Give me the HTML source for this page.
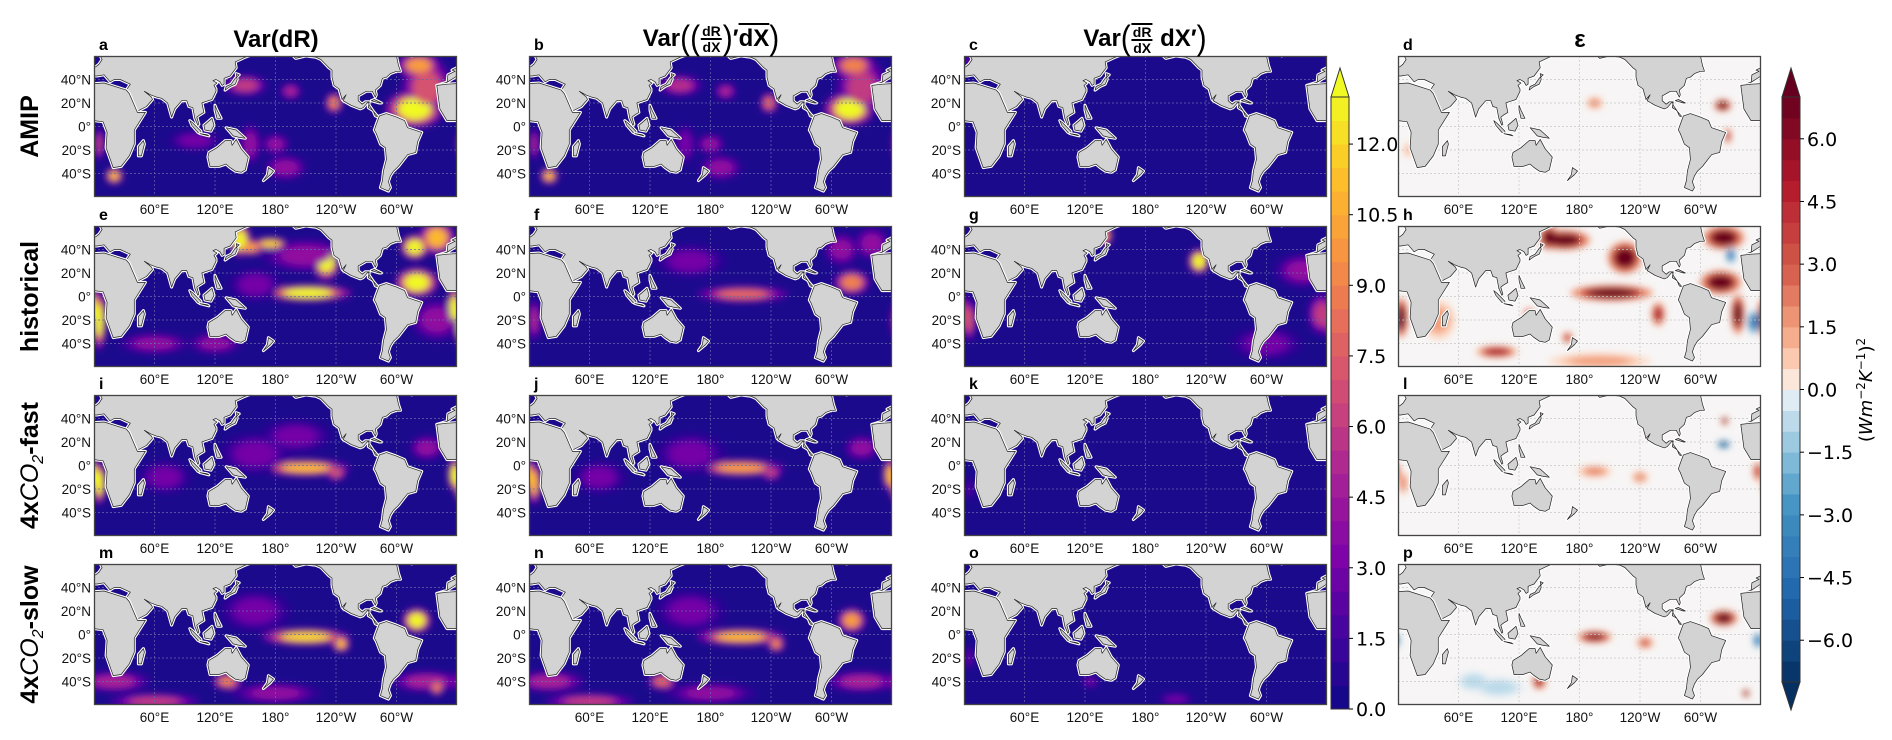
<!DOCTYPE html>
<html><head><meta charset="utf-8">
<style>
body{margin:0;background:#fff;}
#wrap{position:relative;width:1892px;height:740px;overflow:hidden;font-family:"Liberation Sans","DejaVu Sans",sans-serif;}
.title{position:absolute;font-weight:bold;font-size:24px;color:#000;white-space:nowrap;transform:translateX(-50%);display:flex;align-items:center;}
.frac{display:inline-flex;flex-direction:column;align-items:center;font-size:14px;line-height:14px;margin:0 1px;}
.frac .num{border-bottom:2px solid #000;padding:0 1px;}
.ov{text-decoration:overline;}
.par{font-weight:normal;font-size:30px;transform:scaleY(1.15);display:inline-block;}
</style></head>
<body>
<div id="wrap">
<svg id="svg" width="1892" height="740" xmlns="http://www.w3.org/2000/svg"></svg>
<div class="title" style="left:276px;top:26px;">Var(dR)</div>
<div class="title" style="left:711px;top:22px;">Var<span class="par">(</span><span class="par">(</span><span class="frac"><span class="num">dR</span><span>dX</span></span><span class="par">)</span>′<span class="ov">dX</span><span class="par">)</span></div>
<div class="title" style="left:1145px;top:22px;">Var<span class="par">(</span><span class="frac" style="border-top:2px solid #000"><span class="num">dR</span><span>dX</span></span>&nbsp;dX′<span class="par">)</span></div>
<div class="title" style="left:1580px;top:26px;">ε</div>
</div>
<script>
const NS="http://www.w3.org/2000/svg";
const svg=document.getElementById('svg');
const cols=[94,529,964,1398], rows=[56,226,395,564], W=363, H=141;
const panelLetters=[["a","b","c","d"],["e","f","g","h"],["i","j","k","l"],["m","n","o","p"]];
const rowLabels=["AMIP","historical","4xCO2-fast","4xCO2-slow"];
const xTickLons=[60,120,180,240,300];
const xTickLabels=["60°E","120°E","180°","120°W","60°W"];
const yTickLats=[40,20,0,-20,-40];
const yTickLabels=["40°N","20°N","0°","20°S","40°S"];
const cb1Ticks=[0,1.5,3,4.5,6,7.5,9,10.5,12];
const cb2Ticks=[-6,-4.5,-3,-1.5,0,1.5,3,4.5,6];
// hotspot data per panel: [lon, lat, lonRadius, latRadius, value]
const hotA=[[150,35,12,5,6],[195,30,6,4,5],[238,20,5,5,9],[318,15,16,9,13],[330,33,14,14,7],[322,52,12,6,10],[20,-42,5,4,11],[5,-15,3,8,6],[190,-35,12,6,4],[180,-15,8,5,4],[155,-15,6,10,4],[100,-12,15,5,3]];
const hotB=[[150,35,12,5,5.5],[195,30,6,4,5],[238,20,5,5,8],[318,15,14,8,13],[330,33,14,14,6],[322,52,12,6,9],[20,-42,5,4,11],[5,-15,3,8,5],[190,-35,12,6,4],[180,-15,8,5,4],[155,-15,6,10,3]];
const hotC=[[5,55,3,3,3]];
const hotE=[[145,48,6,8,13],[175,45,10,3,12],[155,42,8,4,10],[230,30,8,9,13],[212,3,24,4,13],[320,12,12,7,13],[318,42,8,6,13],[340,50,10,8,11],[357,-10,4,10,13],[5,-20,4,14,13],[120,-40,15,5,4],[60,-40,20,5,4],[160,10,15,8,3],[340,-20,15,10,4],[210,35,25,8,4]];
const hotF=[[212,2,25,4,8],[320,12,10,6,9],[310,40,10,8,4],[5,-20,4,10,5],[160,30,20,8,3],[340,45,10,8,4]];
const hotG=[[140,52,4,5,10],[233,30,6,6,13],[335,22,15,8,4],[355,-15,8,10,6],[5,-20,4,10,7],[300,-40,20,8,3]];
const hotI=[[210,-2,24,4,11],[240,-6,6,4,7],[5,-15,4,10,13],[358,-8,4,8,13],[330,15,10,6,4],[70,-10,15,8,3],[160,10,20,10,3],[200,25,20,8,3]];
const hotJ=[[210,-2,24,4,10],[240,-6,6,4,6],[5,-15,4,10,11],[358,-8,4,8,11],[330,15,10,6,4],[70,-10,15,8,3],[160,10,20,10,3]];
const hotK=[[5,-20,3,6,2]];
const hotM=[[210,-2,24,4,12],[245,-8,5,4,11],[320,12,8,6,13],[132,-40,8,4,9],[60,-57,25,4,6],[20,-40,20,5,5],[330,-40,20,5,5],[340,-45,4,4,9],[180,-50,25,5,4],[160,20,20,10,3]];
const hotN=[[210,-2,24,4,11],[245,-8,5,4,9],[320,12,8,6,10],[132,-40,8,4,8],[60,-57,25,4,6],[20,-40,20,5,5],[330,-40,20,5,5],[180,-50,25,5,4],[160,20,20,10,3]];
const hotO=[[5,-20,3,6,2.5],[125,-40,5,3,3],[210,-55,10,3,3]];
const hotD=[[322,18,5,3,7],[327,-8,2,4,5],[195,20,5,3,2],[10,-20,3,4,1]];
const hotH=[[165,48,15,5,7],[150,50,6,6,7],[225,33,10,8,7],[212,3,24,4,7],[320,12,12,6,7],[323,50,12,6,7],[337,-15,4,10,7],[3,-18,4,10,7],[98,-47,12,3,5],[130,-15,3,3,4],[168,-35,3,3,4],[40,-20,10,10,1.5],[330,35,3,4,-4],[353,-22,4,6,-4],[258,-15,4,6,5],[200,-55,30,4,1.5]];
const hotL=[[324,38,2,2,7],[323,18,4,2,-6],[357,-5,3,5,4],[195,-5,10,3,2],[240,-10,5,3,2],[5,-15,3,6,2]];
const hotP=[[323,14,8,4,7],[195,-2,10,3,6],[245,-7,5,3,3],[357,-5,3,4,-4],[345,-50,2,2,7],[140,-40,4,4,5],[100,-45,15,5,-0.8],[75,-40,10,5,-0.8]];
const hotspots=[[hotA,hotB,hotC,hotD],[hotE,hotF,hotG,hotH],[hotI,hotJ,hotK,hotL],[hotM,hotN,hotO,hotP]];

const land=[
[[-20,35],[-10,36],[-9,44],[-2,47],[-5,48],[2,51],[5,53],[8,57],[5,62],[200,75],[185,62],[180,65],[160,62],[150,59],[140,55],[141,50],[135,43],[129,41],[129,36],[127,35],[125,38],[121,40],[118,39],[122,37],[119,35],[121,32],[121,30],[117,23],[110,21],[107,20],[109,12],[105,10],[102,8],[104,2],[103,1],[100,7],[98,16],[94,17],[92,22],[87,22],[80,15],[77,8],[73,20],[67,24],[62,25],[56,27],[50,30],[57,25],[58,23],[52,17],[43,13],[35,28],[32,31],[36,36],[26,40],[20,40],[16,38],[10,44],[3,43],[0,43],[-9,38]],
[[-20,35],[-10,36],[10,37],[32,31],[35,28],[43,12],[51,12],[40,-3],[40,-15],[35,-25],[27,-34],[19,-35],[12,-18],[13,-5],[9,4],[0,5],[-10,5],[-17,15]],
[[130,31],[135,34],[140,36],[142,40],[141,45],[144,44],[140,41],[136,36],[131,34]],
[[95,5],[98,3],[106,-4],[106,-6],[103,-5],[97,1]],
[[109,1],[117,7],[119,1],[116,-4],[110,-3]],
[[105,-6],[114,-8],[112,-7]],
[[131,-1],[141,-3],[150,-10],[143,-9],[138,-8]],
[[120,18],[122,14],[126,7],[122,7],[120,14]],
[[114,-22],[122,-18],[130,-12],[136,-12],[137,-16],[141,-11],[146,-19],[153,-26],[150,-37],[146,-39],[140,-38],[135,-35],[131,-32],[124,-34],[115,-34],[113,-26]],
[[173,-35],[178,-38],[175,-41],[168,-46],[172,-41]],
[[44,-25],[47,-25],[50,-15],[49,-12],[44,-17]],
[[185,70],[195,62],[200,58],[210,60],[220,59],[225,57],[233,50],[236,48],[236,42],[238,35],[243,32],[246,23],[250,27],[247,22],[255,18],[264,15],[267,16],[272,21],[273,18],[277,13],[279,9],[282,8],[280,10],[276,14],[272,16],[273,21],[269,21],[266,19],[262,22],[262,26],[270,30],[276,30],[279,25],[280,27],[279,31],[284,35],[286,41],[290,42],[294,45],[300,47],[304,47],[302,52],[300,60],[300,70]],
[[275,22],[283,20],[285,20],[278,23]],
[[283,9],[280,2],[278,-3],[280,-6],[284,-15],[289,-18],[290,-28],[287,-38],[286,-46],[284,-52],[292,-55],[294,-52],[292,-47],[294,-42],[297,-38],[302,-34],[311,-24],[319,-22],[321,-13],[325,-5],[311,-1],[308,5],[300,8],[290,11]],
[[315,60],[320,62],[335,70],[300,70]]
];

function el(tag,attrs,parent){const e=document.createElementNS(NS,tag);for(const k in attrs)e.setAttribute(k,attrs[k]);(parent||svg).appendChild(e);return e;}
function lerpHex(a,b,t){const pa=[1,3,5].map(i=>parseInt(a.substr(i,2),16)),pb=[1,3,5].map(i=>parseInt(b.substr(i,2),16));return 'rgb('+pa.map((v,i)=>Math.round(v+(pb[i]-v)*t)).join(',')+')';}
function ramp(stops,t){t=Math.max(0,Math.min(1,t));for(let i=0;i<stops.length-1;i++){if(t<=stops[i+1][0]){return lerpHex(stops[i][1],stops[i+1][1],(t-stops[i][0])/(stops[i+1][0]-stops[i][0]));}}return stops[stops.length-1][1];}
const plasma=[[0,'#0d0887'],[0.13,'#47039f'],[0.25,'#7e03a8'],[0.38,'#a82296'],[0.5,'#cc4778'],[0.63,'#e66c5c'],[0.75,'#f89540'],[0.88,'#fdc328'],[1,'#f0f921']];
const rdbu=[[0,'#053061'],[0.15,'#2166ac'],[0.3,'#4393c3'],[0.4,'#92c5de'],[0.47,'#d1e5f0'],[0.5,'#f7f7f7'],[0.53,'#fddbc7'],[0.6,'#f4a582'],[0.7,'#d6604d'],[0.85,'#b2182b'],[1,'#67001f']];
function cmap1(v){return ramp(plasma,v/13);}
function cmap2(v){return ramp(rdbu,(v+7)/14);}

const defs=el('defs',{});
const f=el('filter',{id:'blur',x:'-20%',y:'-20%',width:'140%',height:'140%'},defs);
el('feGaussianBlur',{stdDeviation:'3.5'},f);

rowLabels.forEach((lab,r)=>{
  const cy=rows[r]+H/2;
  const t=el('text',{x:0,y:0,transform:`translate(38,${cy}) rotate(-90)`,'text-anchor':'middle','font-size':'25','font-weight':'bold','font-family':'Liberation Sans, sans-serif'});
  
  
  if(lab.indexOf('CO2')>=0){
    const parts=lab.split('CO2');
    const a=el('tspan',{},t);a.textContent=parts[0];
    const b=el('tspan',{'font-style':'italic','font-weight':'normal'},t);b.textContent='CO';
    const c=el('tspan',{'font-size':'16','dy':'5','font-weight':'normal','font-style':'italic'},t);c.textContent='2';
    const d=el('tspan',{'dy':'-5'},t);d.textContent=parts[1];
  } else t.textContent=lab;
});

for(let r=0;r<4;r++)for(let c=0;c<4;c++){
  const px=cols[c],py=rows[r];
  const div=c===3;
  const g=el('g',{});
  
  
  const cid='clip'+r+c;
  const cp=el('clipPath',{id:cid},defs);el('rect',{x:px,y:py,width:W,height:H},cp);
  const inner=el('g',{'clip-path':`url(#${cid})`},g);
  el('rect',{x:px,y:py,width:W,height:H,fill:div?'#f7f5f5':'#1c0a8d'},inner);
  const bg=el('g',{filter:'url(#blur)'},inner);
  const cm=div?cmap2:cmap1;
  const layers=div?[[1.7,0.25],[1.3,0.6],[1,1]]:[[1.8,0.3],[1.35,0.6],[1,1]];
  layers.forEach(([s,fv])=>{
    hotspots[r][c].forEach(h=>{
      const [lon,lat,rl,rt,v]=h;
      [-360,0,360].forEach(off=>{
        const e=el('ellipse',{cx:px+(lon+off)/360*W,cy:py+(60-lat)/120*H,rx:rl*s/360*W,ry:rt*s/120*H,fill:cm(v*fv)},bg);
        
        
      });
    });
  });
  xTickLons.forEach(lon=>{const x=px+lon/360*W;el('line',{x1:x,x2:x,y1:py,y2:py+H,stroke:div?'#c8c8c8':'#6a6aa8','stroke-width':0.7,'stroke-dasharray':'2,2'},inner);});
  yTickLats.forEach(lat=>{const y=py+(60-lat)/120*H;el('line',{x1:px,x2:px+W,y1:y,y2:y,stroke:div?'#c8c8c8':'#6a6aa8','stroke-width':0.7,'stroke-dasharray':'2,2'},inner);});
  land.forEach(poly=>{[-360,0,360].forEach(off=>{
    const pts=poly.map(p=>(px+(p[0]+off)/360*W).toFixed(1)+','+(py+(60-p[1])/120*H).toFixed(1)).join(' ');
    el('polygon',{points:pts,fill:'none',stroke:'#fff','stroke-width':3,'stroke-linejoin':'round'},inner);
    const lp=el('polygon',{points:pts,fill:'#d3d3d3',stroke:'#222','stroke-width':0.7,'stroke-linejoin':'round'},inner);
    
    
  });});
  el('rect',{x:px+0.5,y:py+0.5,width:W-1,height:H-1,fill:'none',stroke:'#444','stroke-width':1.3},g);
  xTickLons.forEach((lon,i)=>{
    const t=el('text',{x:px+lon/360*W,y:py+H+17,'text-anchor':'middle','font-size':'13.5','font-family':'Liberation Sans, DejaVu Sans, sans-serif',fill:'#111'},g);
    t.textContent=xTickLabels[i];
    
    
  });
  if(!div) yTickLats.forEach((lat,i)=>{
    const t=el('text',{x:px-3,y:py+(60-lat)/120*H+5,'text-anchor':'end','font-size':'13.5','font-family':'Liberation Sans, DejaVu Sans, sans-serif',fill:'#111'},g);
    t.textContent=yTickLabels[i];
    
    
  });
  const lt=el('text',{x:px+5,y:py-6,'font-size':'16','font-weight':'bold','font-family':'Liberation Sans, sans-serif'},g);
  lt.textContent=panelLetters[r][c];
  
  
}

(function(){
  const x=1331,w=18,y0=709,y1=97;
  const g=el('g',{});
  
  
  const sc=v=>y0-(v/13)*(y0-y1);
  for(let v=0;v<13;v+=0.5){el('rect',{x:x,y:sc(v+0.5),width:w,height:sc(v)-sc(v+0.5)+0.5,fill:cmap1(v+0.25)},g);}
  el('polygon',{points:`${x},${y1} ${x+w/2},68 ${x+w},${y1}`,fill:'#f0f921',stroke:'#333','stroke-width':1},g);
  el('rect',{x:x,y:y1,width:w,height:y0-y1,fill:'none',stroke:'#333','stroke-width':1},g);
  cb1Ticks.forEach(v=>{
    el('line',{x1:x+w,x2:x+w+4,y1:sc(v),y2:sc(v),stroke:'#000'},g);
    const t=el('text',{x:x+w+7,y:sc(v)+7,'font-size':'19','font-family':'DejaVu Sans, sans-serif'},g);
    t.textContent=v.toFixed(1);
    
    
  });
})();
(function(){
  const x=1782,w=18,y0=682,y1=97;
  const g=el('g',{});
  
  
  const sc=v=>y0-((v+7)/14)*(y0-y1);
  for(let v=-7;v<7;v+=0.5){el('rect',{x:x,y:sc(v+0.5),width:w,height:sc(v)-sc(v+0.5)+0.5,fill:cmap2(v+0.25)},g);}
  el('polygon',{points:`${x},${y1} ${x+w/2},68 ${x+w},${y1}`,fill:'#67001f',stroke:'#333','stroke-width':1},g);
  el('polygon',{points:`${x},${y0} ${x+w/2},710 ${x+w},${y0}`,fill:'#053061',stroke:'#333','stroke-width':1},g);
  el('rect',{x:x,y:y1,width:w,height:y0-y1,fill:'none',stroke:'#333','stroke-width':1},g);
  cb2Ticks.forEach(v=>{
    el('line',{x1:x+w,x2:x+w+4,y1:sc(v),y2:sc(v),stroke:'#000'},g);
    const t=el('text',{x:x+w+7,y:sc(v)+7,'font-size':'19','font-family':'DejaVu Sans, sans-serif'},g);
    t.textContent=(v<0?'\u2212':'')+Math.abs(v).toFixed(1);
    
    
  });
  const lab=el('text',{x:0,y:0,transform:'translate(1872,390) rotate(-90)','text-anchor':'middle','font-size':'18','font-family':'DejaVu Sans, sans-serif'},g);
  
  
  lab.innerHTML='(<tspan font-style="italic">Wm</tspan><tspan font-size="12" dy="-7">−2</tspan><tspan dy="7" font-style="italic">K</tspan><tspan font-size="12" dy="-7">−1</tspan><tspan dy="7">)</tspan><tspan font-size="12" dy="-7">2</tspan>';
})();
</script>
</body></html>
